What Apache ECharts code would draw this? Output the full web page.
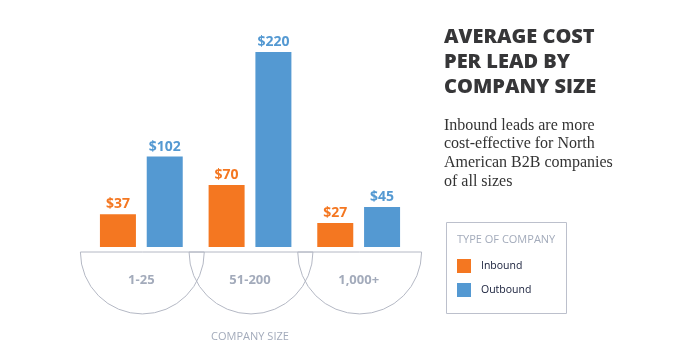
<!DOCTYPE html>
<html><head><meta charset="utf-8">
<script src="https://cdn.jsdelivr.net/npm/echarts@6/dist/echarts.min.js"></script>
<style>html,body{margin:0;padding:0;background:#fff}#c{width:684px;height:347px}</style>
</head><body><div id="c"></div>
<script>
const categories = ['1-25', '51-200', '1,000+'];
const inbound = [37, 70, 27];
const outbound = [102, 220, 45];
const seriesNames = ['Inbound', 'Outbound'];
const titleText = 'AVERAGE COST\nPER LEAD BY\nCOMPANY SIZE';
const subText = 'Inbound leads are more\ncost-effective for North\nAmerican B2B companies\nof all sizes';

const ORANGE = '#f47721', BLUE = '#5499d2', GRAY = '#b4b8c4', LABELGRAY = '#a3abbb';
const chart = echarts.init(document.getElementById('c'), null, {renderer: 'canvas'});
const valLabel = (color) => ({show: true, position: 'top', distance: 3, color: color,
  fontFamily: 'Open Sans', fontWeight: 'bold', fontSize: 14, formatter: p => '$' + p.value});

chart.setOption({
  animation: false,
  textStyle: {fontFamily: 'Open Sans'},
  title: [
    {text: titleText, left: 444, top: 25, padding: 0, textStyle: {fontFamily: 'Open Sans', fontWeight: 800, fontSize: 20, lineHeight: 25, color: '#363638'}},
    {text: subText, left: 444, top: 116, padding: 0, textStyle: {fontFamily: 'Liberation Serif', fontWeight: 'normal', fontSize: 16, lineHeight: 18.7, color: '#333'}},
    {text: 'TYPE OF COMPANY', left: 457, top: 234, padding: 0, textStyle: {fontFamily: 'Open Sans', fontWeight: 'normal', fontSize: 11, color: LABELGRAY}}
  ],
  graphic: [{type: 'rect', left: 444, top: 220, shape: {width: 120, height: 91},
    style: {fill: 'none', stroke: '#bcc0cc', lineWidth: 1}}],
  legend: {orient: 'vertical', left: 457, top: 259, padding: 0, icon: 'rect', itemWidth: 14, itemHeight: 14, itemGap: 10,
    data: seriesNames, textStyle: {fontFamily: 'Open Sans', fontSize: 10.5, color: '#151c38', padding: [0, 0, 0, 5]}},
  grid: {left: 87, right: 271, top: 52, bottom: 100},
  xAxis: {type: 'category', data: categories, axisLine: {show: false}, axisTick: {show: false},
    axisLabel: {margin: 27, fontFamily: 'Open Sans', fontWeight: 'bold', fontSize: 13, color: LABELGRAY},
    name: 'COMPANY SIZE', nameLocation: 'middle', nameGap: 84,
    nameTextStyle: {fontFamily: 'Open Sans', fontSize: 11, color: LABELGRAY}},
  yAxis: {type: 'value', min: 0, max: 220, show: false, splitLine: {show: false}},
  series: [
    {name: seriesNames[0], type: 'bar', data: inbound, barWidth: 36, barGap: '30%', itemStyle: {color: ORANGE}, label: valLabel(ORANGE)},
    {name: seriesNames[1], type: 'bar', data: outbound, barWidth: 36, barGap: '30%', itemStyle: {color: BLUE}, label: valLabel(BLUE)},
    {type: 'custom', data: categories.map((c, i) => [i, 0]), silent: true, clip: false, z: 1,
      renderItem: (params, api) => {
        const p = api.coord([api.value(0), 0]);
        const w = api.size([1, 0])[0];
        return {type: 'sector', shape: {cx: p[0] + 1, cy: p[1] + 5, r0: 0, r: w * 0.57, startAngle: 0, endAngle: Math.PI, clockwise: true},
          style: {fill: 'none', stroke: GRAY, lineWidth: 1}};
      }}
  ]
});
</script></body></html>
